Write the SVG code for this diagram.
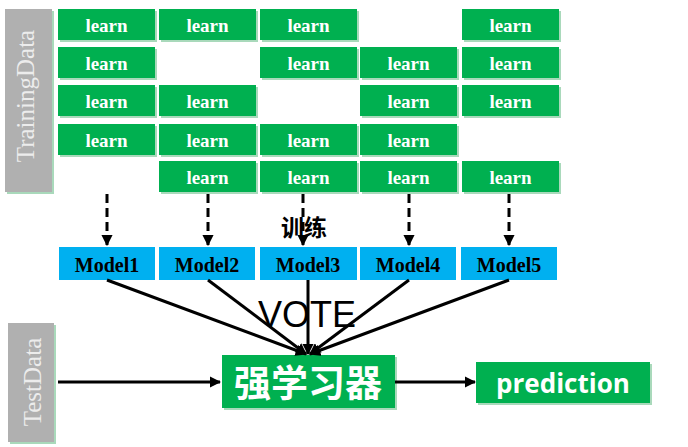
<svg xmlns="http://www.w3.org/2000/svg" width="688" height="447" viewBox="0 0 688 447">
<style>
.g{fill:#00B050}
.sh{fill:#a9d9bb}
.b{fill:#00B0F0}
.gray{fill:#B0B0B0}
.lt{font-family:"Liberation Serif",serif;font-weight:bold;font-size:19px;fill:#fff;text-anchor:middle}
.mt{font-family:"Liberation Serif",serif;font-weight:bold;font-size:20px;fill:#000;text-anchor:middle}
.vt{font-family:"Liberation Serif",serif;font-size:25px;fill:#ececec;text-anchor:middle}
.ln{stroke:#000;stroke-width:3;fill:none}
.ds{stroke:#000;stroke-width:3;fill:none;stroke-dasharray:9 5}
</style>
<defs>
<marker id="ah" viewBox="0 0 10 10" refX="9" refY="5" markerWidth="3.8" markerHeight="3.8" orient="auto" markerUnits="strokeWidth">
<path d="M0,0 L10,5 L0,10 z" fill="#000"/>
</marker>
<g id="lb"><rect class="sh" x="2" y="2" width="97" height="31"/><rect class="g" x="0" y="0" width="97" height="31"/><text class="lt" x="48.5" y="22.5">learn</text></g>
</defs>

<g id="trainingdata">
<rect class="sh" x="7" y="11" width="47" height="183"/>
<rect class="gray" x="5" y="9" width="47" height="183"/>
<text class="vt" transform="translate(34,96) rotate(-90)">TrainingData</text>
</g>

<g id="learn-grid">
<use href="#lb" x="58" y="9"/><use href="#lb" x="159" y="9"/><use href="#lb" x="260" y="9"/><use href="#lb" x="462" y="9"/>
<use href="#lb" x="58" y="47"/><use href="#lb" x="260" y="47"/><use href="#lb" x="360" y="47"/><use href="#lb" x="462" y="47"/>
<use href="#lb" x="58" y="85"/><use href="#lb" x="159" y="85"/><use href="#lb" x="360" y="85"/><use href="#lb" x="462" y="85"/>
<use href="#lb" x="58" y="124"/><use href="#lb" x="159" y="124"/><use href="#lb" x="260" y="124"/><use href="#lb" x="360" y="124"/>
<use href="#lb" x="159" y="161"/><use href="#lb" x="260" y="161"/><use href="#lb" x="360" y="161"/><use href="#lb" x="462" y="161"/>
</g>

<g id="model1"><rect class="b" x="59" y="247" width="96" height="33"/><text class="mt" x="107" y="272">Model1</text></g>
<g id="model2"><rect class="b" x="159" y="247" width="96" height="33"/><text class="mt" x="207" y="272">Model2</text></g>
<g id="model3"><rect class="b" x="260" y="247" width="97" height="33"/><text class="mt" x="308" y="272">Model3</text></g>
<g id="model4"><rect class="b" x="360" y="247" width="96" height="33"/><text class="mt" x="408" y="272">Model4</text></g>
<g id="model5"><rect class="b" x="461" y="247" width="96" height="33"/><text class="mt" x="509" y="272">Model5</text></g>

<g id="testdata">
<rect class="sh" x="10" y="325" width="46" height="119"/>
<rect class="gray" x="8" y="323" width="46" height="119"/>
<text class="vt" transform="translate(41,382) rotate(-90)">TestData</text>
</g>

<g id="strong">
<rect class="sh" x="224" y="357" width="173" height="53"/>
<rect class="g" x="222" y="355" width="173" height="53"/>
<text x="308" y="397" font-family="'Noto Sans CJK SC',sans-serif" font-weight="bold" font-size="37" fill="#fff" text-anchor="middle">强学习器</text>
</g>

<g id="prediction">
<rect class="sh" x="478" y="364" width="174" height="41"/>
<rect class="g" x="476" y="362" width="174" height="41"/>
<text x="563" y="393" font-family="'Open Sans',sans-serif" font-weight="bold" font-size="26" fill="#fff" text-anchor="middle">prediction</text>
</g>

<g id="connectors">
<line class="ds" x1="107" y1="194" x2="107" y2="245" marker-end="url(#ah)"/>
<line class="ds" x1="208" y1="194" x2="208" y2="245" marker-end="url(#ah)"/>
<line class="ds" x1="303" y1="194" x2="303" y2="245" marker-end="url(#ah)"/>
<line class="ds" x1="409" y1="194" x2="409" y2="245" marker-end="url(#ah)"/>
<line class="ds" x1="509" y1="194" x2="509" y2="245" marker-end="url(#ah)"/>
<line class="ln" x1="107" y1="280" x2="306" y2="354" marker-end="url(#ah)"/>
<line class="ln" x1="208" y1="280" x2="306" y2="354" marker-end="url(#ah)"/>
<line class="ln" x1="308" y1="280" x2="308" y2="354" marker-end="url(#ah)"/>
<line class="ln" x1="409" y1="280" x2="310" y2="354" marker-end="url(#ah)"/>
<line class="ln" x1="509" y1="280" x2="310" y2="354" marker-end="url(#ah)"/>
<line class="ln" x1="58" y1="382" x2="220" y2="382" marker-end="url(#ah)"/>
<line class="ln" x1="395" y1="382" x2="475" y2="382" marker-end="url(#ah)"/>
</g>

<text x="304" y="236" font-family="'Noto Sans CJK SC',sans-serif" font-weight="bold" font-size="23" fill="#000" text-anchor="middle">训练</text>
<text x="307" y="327" font-family="'Liberation Sans',sans-serif" font-size="36" fill="#000" text-anchor="middle">VOTE</text>
</svg>
